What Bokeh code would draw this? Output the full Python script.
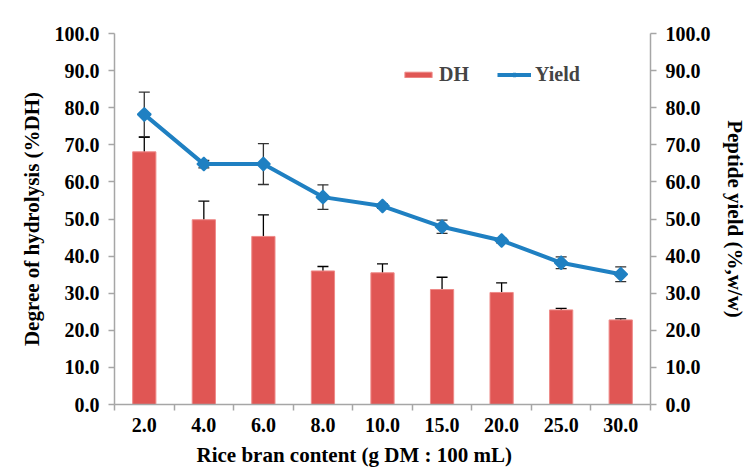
import math
from bokeh.plotting import figure
from bokeh.models import (ColumnDataSource, LinearAxis, Range1d, FixedTicker, Title,
                          Whisker, TeeHead, Legend, LegendItem, PrintfTickFormatter)
from bokeh.embed import file_html
from bokeh.resources import INLINE

categories = ["2.0", "4.0", "6.0", "8.0", "10.0", "15.0", "20.0", "25.0", "30.0"]
dh = [68.1, 49.8, 45.3, 36.0, 35.5, 31.0, 30.2, 25.5, 22.8]
dh_err = [3.9, 5.0, 5.8, 1.2, 2.4, 3.3, 2.6, 0.4, 0.3]
yield_vals = [78.2, 64.8, 64.8, 55.9, 53.5, 47.9, 44.2, 38.2, 35.1]
yield_err = [6.0, 1.0, 5.5, 3.3, 0.6, 1.8, 0.6, 1.6, 2.0]
y_ticks = [0, 10, 20, 30, 40, 50, 60, 70, 80, 90, 100]

FONT = "Liberation Serif"
BAR = "#E05654"
BLUE = "#1F80C2"
AX = "#A6A6A6"

xs = list(range(1, len(categories) + 1))
src = ColumnDataSource(dict(
    x=xs, dh=dh, dh_up=[v + e for v, e in zip(dh, dh_err)],
    dh_lo=[v - e for v, e in zip(dh, dh_err)],
    yv=yield_vals, y_up=[v + e for v, e in zip(yield_vals, yield_err)],
    y_lo=[v - e for v, e in zip(yield_vals, yield_err)],
))

p = figure(width=749, height=473, output_backend="svg", toolbar_location=None,
           x_range=Range1d(0.5, len(categories) + 0.5), y_range=Range1d(0, 100),
           min_border_left=114, min_border_right=99, min_border_top=33, min_border_bottom=69)
p.outline_line_color = None
p.xgrid.visible = False
p.ygrid.visible = False
p.background_fill_color = "white"
p.border_fill_color = "white"

p.extra_y_ranges = {"right": Range1d(0, 100)}

bars = p.vbar(x="x", top="dh", width=0.39, source=src, fill_color=BAR,
              line_color="#EE8A88", line_width=1)
w1 = Whisker(base="x", upper="dh_up", lower="dh_lo", source=src, line_color="black",
             line_width=1.3,
             upper_head=TeeHead(size=11, line_color="black", line_width=1.3),
             lower_head=TeeHead(size=11, line_color="black", line_width=1.3))
p.add_layout(w1)
line = p.line(x="x", y="yv", source=src, line_color=BLUE, line_width=4, y_range_name="right")
pts = p.scatter(x="x", y="yv", source=src, marker="square", angle=math.pi / 4, size=9.5,
                fill_color=BLUE, line_color=BLUE, line_width=1.5, y_range_name="right")
w2 = Whisker(base="x", upper="y_up", lower="y_lo", source=src, line_color="#333333",
             line_width=1.3, y_range_name="right",
             upper_head=TeeHead(size=11, line_color="#333333", line_width=1.3),
             lower_head=TeeHead(size=11, line_color="#333333", line_width=1.3))
p.add_layout(w2)

# x axis
xa = p.xaxis[0]
xa.ticker = FixedTicker(ticks=xs, minor_ticks=[x - 0.5 for x in xs] + [len(xs) + 0.5])
xa.major_label_overrides = {x: c for x, c in zip(xs, categories)}
xa.major_tick_line_color = None
xa.minor_tick_line_color = AX
xa.minor_tick_line_width = 1.5
xa.minor_tick_in = 0
xa.minor_tick_out = 6
xa.axis_line_color = AX
xa.axis_line_width = 1.5
xa.major_label_text_font = FONT
xa.major_label_text_font_style = "bold"
xa.major_label_text_font_size = "20px"
xa.major_label_text_color = "black"
xa.major_label_standoff = 7

p.add_layout(Title(text="Rice bran content (g DM : 100 mL)", align="left", offset=82,
                   text_font=FONT, text_font_style="bold", text_font_size="21px",
                   text_color="black", standoff=12), "below")

def style_y(ax, label, standoff):
    ax.ticker = FixedTicker(ticks=y_ticks)
    ax.formatter = PrintfTickFormatter(format="%.1f")
    ax.axis_line_color = AX
    ax.axis_line_width = 1.5
    ax.major_tick_line_color = AX
    ax.major_tick_line_width = 1.5
    ax.major_tick_in = 0
    ax.major_tick_out = 6
    ax.minor_tick_line_color = None
    ax.major_label_text_font = FONT
    ax.major_label_text_font_style = "bold"
    ax.major_label_text_font_size = "20px"
    ax.major_label_text_color = "black"
    ax.major_label_standoff = 9
    ax.axis_label = label
    ax.axis_label_text_font = FONT
    ax.axis_label_text_font_style = "bold"
    ax.axis_label_text_font_size = "21px"
    ax.axis_label_text_color = "black"
    ax.axis_label_standoff = standoff

style_y(p.yaxis[0], "Degree of hydrolysis (%DH)", 8)
ra = LinearAxis(y_range_name="right")
style_y(ra, "Peptide yield (%,w/w)", 9)
p.add_layout(ra, "right")

legend = Legend(items=[LegendItem(label="DH", renderers=[bars]),
                       LegendItem(label="Yield", renderers=[line, pts])],
                orientation="horizontal", location=(287, 318),
                glyph_width=34, glyph_height=7, spacing=28, padding=0, margin=0,
                label_text_font=FONT, label_text_font_style="bold",
                label_text_font_size="20px", label_standoff=4,
                border_line_color=None, background_fill_alpha=0)
p.add_layout(legend)

open("out.html", "w").write(file_html(p, INLINE))
